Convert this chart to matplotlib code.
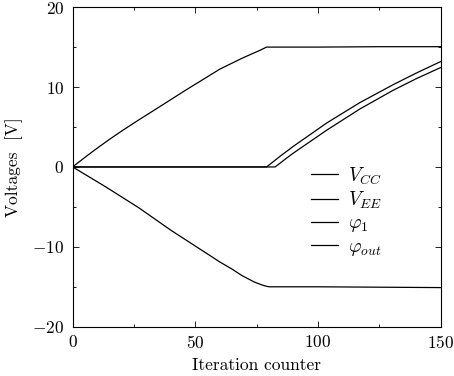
import matplotlib
matplotlib.use('Agg')
import matplotlib.pyplot as plt
from matplotlib.ticker import MultipleLocator

plt.rcParams['font.family'] = 'serif'
plt.rcParams['font.serif'] = ['cmr10']
plt.rcParams['mathtext.fontset'] = 'cm'
plt.rcParams['axes.formatter.use_mathtext'] = True
plt.rcParams['font.size'] = 12.5

# values
x_vcc = [0, 5, 10, 15, 20, 27, 35, 46, 55, 60, 65, 69, 73, 76, 78, 79, 100, 125, 150]
y_vcc = [0, 1.2, 2.35, 3.45, 4.5, 5.9, 7.45, 9.6, 11.3, 12.25, 13.0, 13.6, 14.15,
         14.55, 14.85, 15.0, 15.0, 15.05, 15.05]

x_vee = [0, 13.3, 26.9, 40.4, 54, 60, 65, 69, 74, 77, 78.5, 80, 100, 125, 150]
y_vee = [0, -2.46, -5.1, -8.0, -10.7, -11.9, -12.8, -13.6, -14.4, -14.75, -14.9,
         -15.0, -15.0, -15.05, -15.1]

x_phi1 = [0, 79, 85, 90, 103.5, 117, 130.6, 140, 150]
y_phi1 = [0, 0, 1.45, 2.6, 5.5, 8.05, 10.3, 11.75, 13.2]

x_phiout = [0, 82.5, 88, 90, 103.5, 117, 130.6, 140, 150]
y_phiout = [0, 0, 1.3, 1.75, 4.6, 7.25, 9.6, 11.05, 12.45]

fig = plt.figure(figsize=(4.54, 3.76), dpi=100)
ax = fig.add_axes([0.160, 0.131, 0.811, 0.850])

lw = 0.9
ax.plot(x_vcc, y_vcc, color='black', lw=lw, label=r'$V_{CC}$')
ax.plot(x_vee, y_vee, color='black', lw=lw, label=r'$V_{EE}$')
ax.plot(x_phi1, y_phi1, color='black', lw=lw, label=r'$\varphi_1$')
ax.plot(x_phiout, y_phiout, color='black', lw=lw, label=r'$\varphi_{out}$')

ax.set_xlim(0, 150)
ax.set_ylim(-20, 20)
ax.xaxis.set_major_locator(MultipleLocator(50))
ax.xaxis.set_minor_locator(MultipleLocator(25))
ax.yaxis.set_major_locator(MultipleLocator(10))
ax.yaxis.set_minor_locator(MultipleLocator(5))
ax.tick_params(which='both', direction='in', top=True, right=True, width=0.6)
ax.tick_params(which='major', length=4)
ax.tick_params(which='minor', length=2.5)
ax.tick_params(axis='x', pad=5)
ax.tick_params(axis='y', pad=6)
for s in ax.spines.values():
    s.set_linewidth(0.8)

ax.set_xlabel('Iteration counter', labelpad=5)
ax.set_ylabel('Voltages  [V]', labelpad=7)

ax.legend(loc='upper left', bbox_to_anchor=(0.6, 0.56), frameon=False, fontsize=14,
          handlelength=1.4, labelspacing=0.17, handletextpad=0.5)

fig.savefig('out.png', dpi=100)
